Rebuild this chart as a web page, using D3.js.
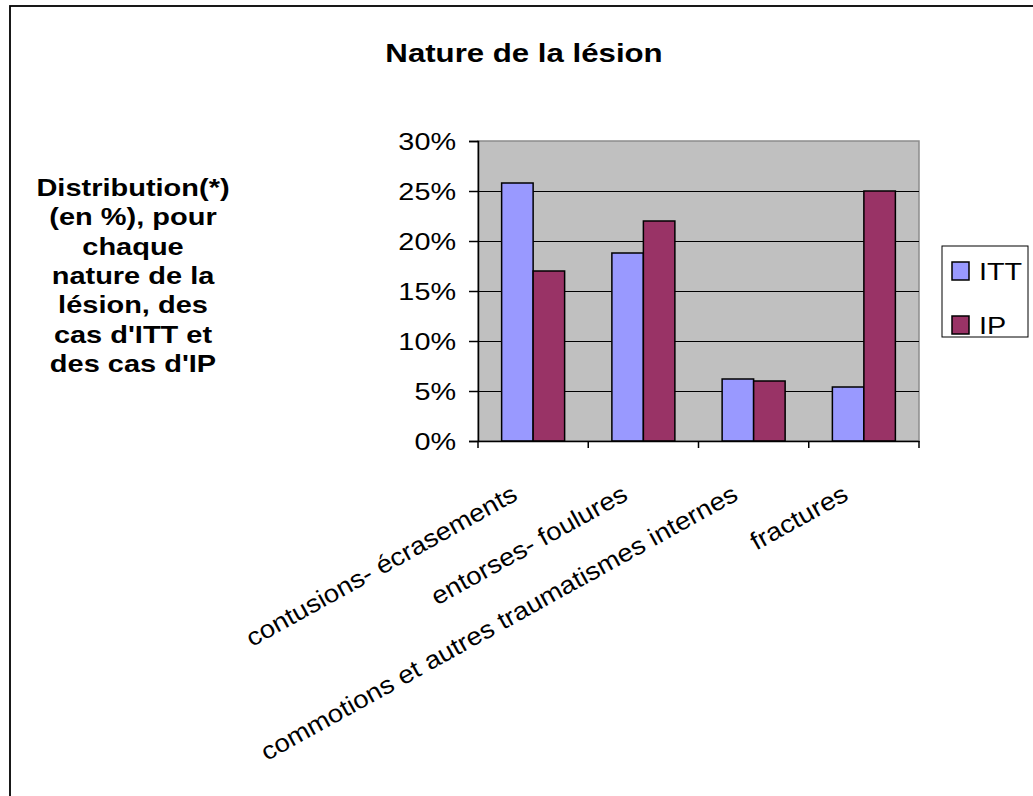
<!DOCTYPE html>
<html>
<head>
<meta charset="utf-8">
<script src="https://cdn.jsdelivr.net/npm/d3@7"></script>
<style>
  body { margin: 0; background: #fff; }
  text { font-family: "Liberation Sans", Arial, sans-serif; fill: #000; }
</style>
</head>
<body>
<svg id="chart" width="1033" height="796"></svg>
<script>
const categories = ["contusions- écrasements", "entorses- foulures", "commotions et autres traumatismes internes", "fractures"];
const seriesNames = ["ITT", "IP"];
const ittValues = [25.8, 18.8, 6.2, 5.4];
const ipValues = [17.0, 22.0, 6.0, 25.0];
const yTickValues = [0, 5, 10, 15, 20, 25, 30];
const titleText = "Nature de la lésion";
const yTitleLines = ["Distribution(*)", "(en %), pour", "chaque", "nature de la", "lésion, des", "cas d'ITT et", "des cas d'IP"];
const colors = { ITT: "#9999FF", IP: "#993366" };

const svg = d3.select("#chart");
const SX = 1.2; // horizontal stretch of the original rendering

// outer frame
svg.append("rect").attr("x", 10).attr("y", 6).attr("width", 1200).attr("height", 1000)
  .attr("fill", "#fff").attr("stroke", "#000").attr("stroke-width", 1.8);

const plot = { left: 478, right: 919, top: 141, bottom: 441 };
const x = d3.scaleBand().domain(categories).range([plot.left, plot.right]).padding(0);
const xs = d3.scaleBand().domain(seriesNames).range([0, x.bandwidth()]).paddingInner(0).paddingOuter(0.75);
const y = d3.scaleLinear().domain([0, 30]).range([plot.bottom, plot.top]);

// plot area
svg.append("rect").attr("x", plot.left).attr("y", plot.top)
  .attr("width", plot.right - plot.left).attr("height", plot.bottom - plot.top)
  .attr("fill", "#C0C0C0").attr("stroke", "#8c8c8c").attr("stroke-width", 1.5);

// gridlines
svg.append("g").selectAll("line").data(yTickValues.filter(v => v > 0 && v < 30)).join("line")
  .attr("x1", plot.left).attr("x2", plot.right)
  .attr("y1", d => Math.round(y(d)) + 0.5).attr("y2", d => Math.round(y(d)) + 0.5)
  .attr("stroke", "#000").attr("stroke-width", 1);

// bars
const data = categories.map((c, i) => ({ cat: c, vals: [
  { s: "ITT", v: ittValues[i] }, { s: "IP", v: ipValues[i] } ] }));
const groups = svg.append("g").selectAll("g").data(data).join("g")
  .attr("transform", d => `translate(${x(d.cat)},0)`);
groups.selectAll("rect").data(d => d.vals).join("rect")
  .attr("x", d => xs(d.s)).attr("width", xs.bandwidth())
  .attr("y", d => y(d.v)).attr("height", d => y(0) - y(d.v))
  .attr("fill", d => colors[d.s]).attr("stroke", "#000").attr("stroke-width", 1.5);

// y axis
const yAxis = d3.axisLeft(y).tickValues(yTickValues).tickSize(9).tickFormat("");
const gy = svg.append("g").attr("transform", `translate(${plot.left},0)`).call(yAxis);
gy.select(".domain").attr("stroke", "#000").attr("stroke-width", 1.5);
gy.selectAll(".tick line").attr("stroke", "#000").attr("stroke-width", 1.5);
svg.append("g").selectAll("text").data(yTickValues).join("text")
  .attr("transform", d => `translate(456,${y(d) + 8.6}) scale(${SX},1)`)
  .attr("text-anchor", "end").attr("font-size", 24)
  .text(d => d + "%");

// x axis
const xAxis = d3.axisBottom(x).tickSize(0).tickFormat("");
const gx = svg.append("g").attr("transform", `translate(0,${plot.bottom})`).call(xAxis);
gx.select(".domain").attr("stroke", "#000").attr("stroke-width", 1.5);
const boundaries = d3.range(categories.length + 1).map(i => plot.left + i * x.step());
svg.append("g").selectAll("line").data(boundaries).join("line")
  .attr("x1", d => d).attr("x2", d => d).attr("y1", plot.bottom).attr("y2", plot.bottom + 7)
  .attr("stroke", "#000").attr("stroke-width", 1.5);

// x labels (rotated)
svg.append("g").selectAll("text").data(categories).join("text")
  .attr("transform", d => `translate(${x(d) + x.bandwidth() / 2 - 14},499) rotate(-29) scale(1.1,1)`)
  .attr("text-anchor", "end").attr("font-size", 25)
  .attr("fill", (d, i) => i === 0 ? "#3a3a3a" : "#000")
  .text(d => d);

// title
svg.append("text").attr("transform", `translate(524,62) scale(${SX},1)`)
  .attr("text-anchor", "middle").attr("font-size", 26).attr("font-weight", "bold")
  .text(titleText);

// y title
svg.append("g").selectAll("text").data(yTitleLines).join("text")
  .attr("transform", (d, i) => `translate(133,${196 + i * 29.3}) scale(1.26,1)`)
  .attr("text-anchor", "middle").attr("font-size", 23).attr("font-weight", "bold")
  .text(d => d);

// legend
const legend = svg.append("g");
legend.append("rect").attr("x", 942).attr("y", 246).attr("width", 86).attr("height", 91)
  .attr("fill", "#fff").attr("stroke", "#000").attr("stroke-width", 1);
const li = legend.selectAll("g").data(seriesNames).join("g")
  .attr("transform", (d, i) => `translate(0,${i * 54})`);
li.append("rect").attr("x", 952).attr("y", 262).attr("width", 17).attr("height", 18)
  .attr("fill", d => colors[d]).attr("stroke", "#000").attr("stroke-width", 1.5);
li.append("text").attr("transform", `translate(979,280) scale(${SX},1)`)
  .attr("font-size", 24).text(d => d);
</script>
</body>
</html>
